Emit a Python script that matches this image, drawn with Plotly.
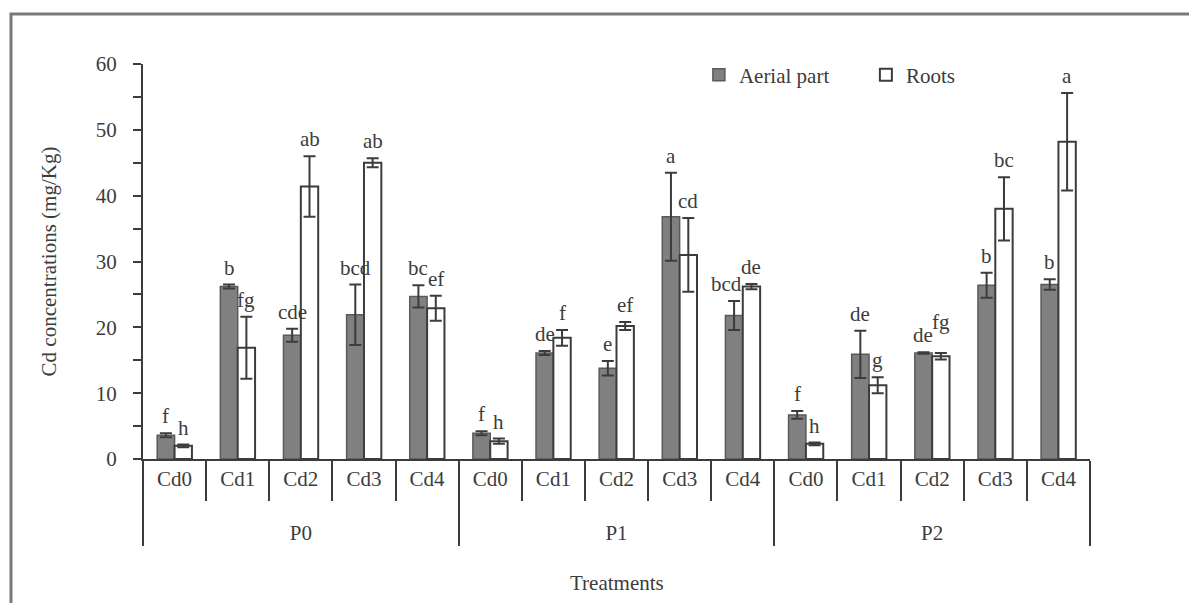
import plotly.graph_objects as go

# treatments: P level x Cd level (leading <br> pushes the P row down like the original)
p_levels = ['<br>P0'] * 5 + ['<br>P1'] * 5 + ['<br>P2'] * 5
cd_levels = ['Cd0', 'Cd1', 'Cd2', 'Cd3', 'Cd4'] * 3

aerial = [3.6, 26.2, 18.8, 21.9, 24.7, 3.9, 16.1, 13.8, 36.8, 21.8, 6.7, 15.9, 16.1, 26.4, 26.5]
aerial_err = [0.3, 0.3, 1.0, 4.6, 1.7, 0.3, 0.3, 1.1, 6.7, 2.2, 0.6, 3.6, 0.1, 1.9, 0.8]
roots = [2.0, 16.9, 41.4, 45.0, 22.9, 2.7, 18.4, 20.2, 31.0, 26.2, 2.3, 11.2, 15.6, 38.0, 48.2]
roots_err = [0.2, 4.7, 4.6, 0.7, 1.9, 0.4, 1.2, 0.6, 5.6, 0.4, 0.2, 1.2, 0.5, 4.8, 7.4]

aerial_letters = ['f', 'b', 'cde', 'bcd', 'bc', 'f', 'de', 'e', 'a', 'bcd', 'f', 'de', 'de', 'b', 'b']
roots_letters = ['h', 'fg', 'ab', 'ab', 'ef', 'h', 'f', 'ef', 'cd', 'de', 'h', 'g', 'fg', 'bc', 'a']

FONT = "Liberation Serif"
INK = "#3c3c3c"
BARGAP = 0.45

# small label nudges (px) where letters would collide, as in the original
nudge_x = {('a', 9): -8}
nudge_y = {('r', 12): 14}

fig = go.Figure()
fig.add_trace(go.Bar(x=[p_levels, cd_levels], y=aerial, name="Aerial part",
                     marker=dict(color="#808080", line=dict(color="#5a5a5a", width=1.5)),
                     error_y=dict(type='data', array=aerial_err, color=INK, thickness=2, width=6)))
fig.add_trace(go.Bar(x=[p_levels, cd_levels], y=roots, name="Roots",
                     marker=dict(color="white", line=dict(color=INK, width=2)),
                     error_y=dict(type='data', array=roots_err, color=INK, thickness=2, width=6)))

# significance letters above the error bars
shift = (1 - BARGAP) / 4
anns = []
for i in range(len(aerial)):
    anns.append(dict(x=i - shift, y=aerial[i] + aerial_err[i], text=aerial_letters[i],
                     xshift=nudge_x.get(('a', i), 0), yshift=3 + nudge_y.get(('a', i), 0)))
    anns.append(dict(x=i + shift, y=roots[i] + roots_err[i], text=roots_letters[i],
                     xshift=nudge_x.get(('r', i), 0), yshift=3 + nudge_y.get(('r', i), 0)))
for a in anns:
    a.update(xref='x', yref='y', showarrow=False, yanchor='bottom',
             font=dict(family=FONT, size=21, color=INK))
anns.append(dict(text="Treatments", xref='paper', yref='paper', x=0.5, y=-0.314,
                 showarrow=False, yanchor='middle', font=dict(family=FONT, size=21, color=INK)))

fig.update_layout(
    width=1189, height=603,
    margin=dict(l=143, r=99, t=64, b=144),
    paper_bgcolor='white', plot_bgcolor='white',
    font=dict(family=FONT, size=21, color=INK),
    barmode='group', bargap=BARGAP, bargroupgap=0,
    annotations=anns,
    legend=dict(orientation='h', x=0.587, y=0.972, xanchor='left', yanchor='middle',
                font=dict(family=FONT, size=21, color=INK), itemwidth=30,
                entrywidth=122, bgcolor='rgba(0,0,0,0)'),
    shapes=[dict(type='rect', xref='paper', yref='paper', x0=-0.1394, x1=1.2, y0=-0.5, y1=1.1266,
                 line=dict(color='#7a7a7a', width=3), layer='below')],
)
fig.update_yaxes(range=[0, 60], dtick=10, showgrid=False, zeroline=False,
                 showline=True, linecolor=INK, linewidth=2,
                 ticks='outside', ticklen=8, tickcolor=INK, tickwidth=2,
                 ticklabelstandoff=12,
                 minor=dict(dtick=5, ticks='outside', ticklen=8, tickcolor=INK, tickwidth=2),
                 title=dict(text="Cd concentrations (mg/Kg)", standoff=33,
                            font=dict(family=FONT, size=21, color=INK)))
fig.update_xaxes(range=[-0.5, 14.5], showgrid=False, showline=True, linecolor=INK, linewidth=2,
                 ticks='outside', ticklen=40, tickcolor=INK, tickwidth=2,
                 showdividers=True, dividercolor=INK, dividerwidth=2)

fig.write_html("out.html", config={'displayModeBar': False},
               post_script="document.body.style.margin='0';")
